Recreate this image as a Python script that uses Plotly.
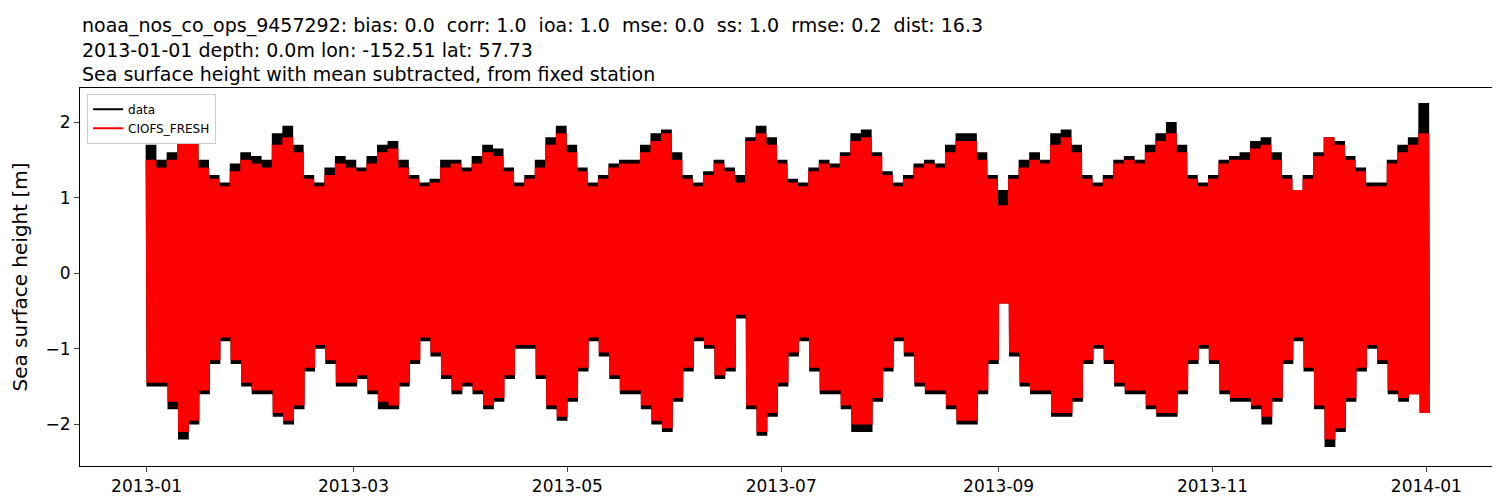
import pandas as pd
import plotly.graph_objects as go

# Envelope values read every 3 days starting 2013-01-01
data_high = [1.7,1.5,1.6,1.9,1.85,1.5,1.3,1.2,1.45,1.6,
1.55,1.5,1.85,1.95,1.7,1.3,1.2,1.4,1.55,1.5,
1.4,1.55,1.7,1.75,1.5,1.3,1.2,1.25,1.5,1.5,
1.4,1.55,1.7,1.65,1.4,1.2,1.3,1.5,1.8,1.95,
1.7,1.4,1.2,1.3,1.45,1.5,1.5,1.7,1.85,1.9,
1.6,1.3,1.2,1.35,1.5,1.4,1.3,1.8,1.95,1.8,
1.5,1.25,1.2,1.4,1.5,1.45,1.6,1.85,1.9,1.6,
1.35,1.2,1.3,1.45,1.5,1.45,1.7,1.85,1.85,1.6,
1.3,1.1,1.3,1.5,1.6,1.5,1.85,1.9,1.7,1.3,
1.2,1.3,1.5,1.55,1.5,1.7,1.85,2.0,1.7,1.3,
1.2,1.3,1.5,1.55,1.6,1.75,1.8,1.6,1.3,1.1,
1.3,1.6,1.8,1.75,1.55,1.4,1.2,1.2,1.5,1.7,
1.8,2.25]
data_low = [-1.5,-1.5,-1.8,-2.2,-2.0,-1.6,-1.2,-0.9,-1.2,-1.5,
-1.6,-1.6,-1.9,-2.0,-1.8,-1.3,-1.0,-1.2,-1.5,-1.5,
-1.4,-1.6,-1.8,-1.8,-1.5,-1.2,-0.9,-1.1,-1.4,-1.6,
-1.5,-1.6,-1.8,-1.7,-1.4,-1.0,-1.0,-1.4,-1.8,-1.95,
-1.7,-1.3,-0.9,-1.1,-1.4,-1.6,-1.6,-1.8,-2.0,-2.1,
-1.7,-1.3,-0.9,-1.0,-1.4,-1.3,-0.6,-1.8,-2.15,-1.9,
-1.5,-1.1,-0.9,-1.3,-1.6,-1.6,-1.8,-2.1,-2.1,-1.7,
-1.3,-0.9,-1.1,-1.5,-1.6,-1.6,-1.8,-2.0,-2.0,-1.6,
-1.2,-0.4,-1.1,-1.5,-1.6,-1.6,-1.9,-1.9,-1.7,-1.2,
-1.0,-1.2,-1.5,-1.6,-1.6,-1.8,-1.9,-1.9,-1.6,-1.2,
-1.0,-1.2,-1.6,-1.7,-1.7,-1.8,-2.0,-1.7,-1.2,-0.9,
-1.3,-1.8,-2.3,-2.1,-1.7,-1.3,-1.0,-1.2,-1.6,-1.7,
-1.6,-1.5]
model_high = [1.5,1.4,1.5,1.8,1.75,1.4,1.25,1.15,1.35,1.5,
1.45,1.4,1.7,1.8,1.6,1.25,1.15,1.3,1.45,1.4,
1.35,1.45,1.6,1.65,1.4,1.25,1.15,1.2,1.4,1.45,
1.35,1.45,1.6,1.55,1.35,1.15,1.25,1.4,1.7,1.85,
1.6,1.35,1.15,1.25,1.4,1.45,1.45,1.6,1.75,1.85,
1.5,1.25,1.15,1.3,1.45,1.35,1.2,1.75,1.85,1.7,
1.45,1.2,1.15,1.35,1.45,1.4,1.55,1.75,1.8,1.55,
1.3,1.15,1.25,1.4,1.45,1.4,1.6,1.75,1.75,1.5,
1.25,0.9,1.25,1.4,1.5,1.45,1.7,1.8,1.6,1.25,
1.15,1.25,1.45,1.5,1.45,1.6,1.75,1.85,1.6,1.25,
1.15,1.25,1.45,1.5,1.5,1.65,1.7,1.5,1.25,1.1,
1.25,1.55,1.8,1.7,1.5,1.35,1.15,1.15,1.45,1.6,
1.7,1.85]
model_low = [-1.45,-1.45,-1.7,-2.1,-1.95,-1.55,-1.15,-0.85,-1.15,-1.45,
-1.55,-1.55,-1.85,-1.95,-1.75,-1.25,-0.95,-1.15,-1.45,-1.45,
-1.35,-1.55,-1.7,-1.75,-1.45,-1.15,-0.85,-1.05,-1.35,-1.55,
-1.45,-1.55,-1.75,-1.65,-1.35,-0.95,-0.95,-1.35,-1.75,-1.9,
-1.65,-1.25,-0.85,-1.05,-1.35,-1.55,-1.55,-1.75,-1.95,-2.05,
-1.65,-1.25,-0.85,-0.95,-1.35,-1.25,-0.55,-1.75,-2.1,-1.85,
-1.45,-1.05,-0.85,-1.25,-1.55,-1.55,-1.75,-2.0,-2.0,-1.65,
-1.25,-0.85,-1.05,-1.45,-1.55,-1.55,-1.75,-1.95,-1.95,-1.55,
-1.15,-0.4,-1.05,-1.45,-1.55,-1.55,-1.85,-1.85,-1.65,-1.15,
-0.95,-1.15,-1.45,-1.55,-1.55,-1.75,-1.85,-1.85,-1.55,-1.15,
-0.95,-1.15,-1.55,-1.65,-1.65,-1.75,-1.9,-1.65,-1.15,-0.85,
-1.25,-1.75,-2.2,-2.05,-1.65,-1.25,-0.95,-1.15,-1.55,-1.65,
-1.6,-1.85]

def zigzag(highs, lows, cycles=6):
    # each 3-day step: alternate between that step's read high and low (tidal swings)
    n = min(len(highs), len(lows))
    start = pd.Timestamp("2013-01-01")
    step = 72 / (2 * cycles)
    xs, ys = [], []
    for i in range(n):
        for k in range(2 * cycles):
            xs.append(start + pd.Timedelta(hours=72 * i + step * k))
            ys.append(highs[i] if k % 2 == 0 else lows[i])
    return xs, ys

dx, dy = zigzag(data_high, data_low)
mx, my = zigzag(model_high, model_low)

fig = go.Figure()
fig.add_trace(go.Scatter(x=dx, y=dy, mode="lines", name="data", line=dict(color="black", width=2)))
fig.add_trace(go.Scatter(x=mx, y=my, mode="lines", name="CIOFS_FRESH", line=dict(color="red", width=2)))

fig.update_layout(
    width=1500, height=500, plot_bgcolor="white", paper_bgcolor="white",
    font=dict(family="DejaVu Sans", size=17, color="black"),
    margin=dict(l=67, r=15, t=80, b=33),
    showlegend=True,
    legend=dict(x=0.005, y=0.985, xanchor="left", yanchor="top", bgcolor="white",
                bordercolor="#ccc", borderwidth=1, font=dict(size=12)),
    annotations=[dict(
        text="noaa_nos_co_ops_9457292: bias: 0.0  corr: 1.0  ioa: 1.0  mse: 0.0  ss: 1.0  rmse: 0.2  dist: 16.3<br>2013-01-01 depth: 0.0m lon: -152.51 lat: 57.73<br>Sea surface height with mean subtracted, from fixed station",
        xref="paper", yref="paper", x=0, y=1, xanchor="left", yanchor="bottom", align="left",
        showarrow=False, font=dict(size=19), yshift=1)],
)
fig.update_xaxes(range=["2012-12-13", "2014-01-20"], tickvals=["2013-01-01","2013-03-01","2013-05-01","2013-07-01","2013-09-01","2013-11-01","2014-01-01"],
                 tickformat="%Y-%m", showgrid=False, showline=True, mirror=True, linecolor="black",
                 ticks="outside", zeroline=False)
fig.update_yaxes(range=[-2.55, 2.45], tickvals=[-2, -1, 0, 1, 2], ticktext=["\u22122", "\u22121", "0", "1", "2"],
                 title=dict(text="Sea surface height [m]", standoff=12), showgrid=False, showline=True, mirror=True,
                 linecolor="black", ticks="outside", zeroline=False)
fig.write_html("out.html")
